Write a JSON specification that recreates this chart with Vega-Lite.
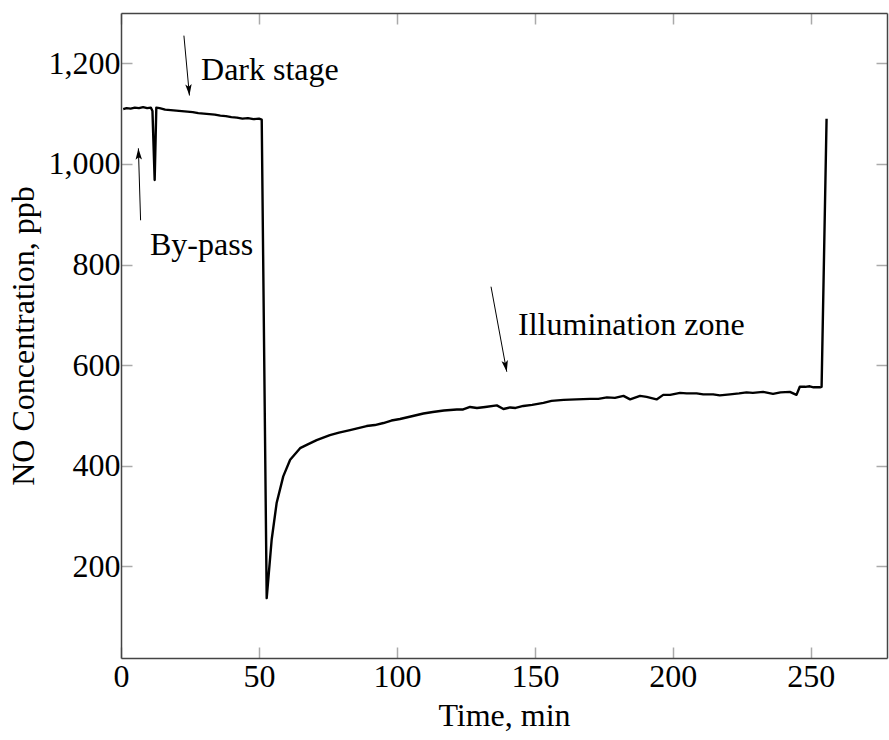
{
  "$schema": "https://vega.github.io/schema/vega-lite/v6.json",
  "autosize": "none",
  "width": 766,
  "height": 645,
  "padding": {"left": 121, "top": 13, "right": 2, "bottom": 82},
  "background": "white",
  "config": {
    "view": {"stroke": null},
    "font": "Liberation Serif, serif",
    "text": {"font": "Liberation Serif, serif"},
    "axis": {
      "labelFont": "Liberation Serif, serif",
      "titleFont": "Liberation Serif, serif",
      "labelFontSize": 32,
      "titleFontSize": 32,
      "titleFontWeight": "normal",
      "labelColor": "#000",
      "titleColor": "#000",
      "domainColor": "#444",
      "domainWidth": 1.5,
      "tickColor": "#aaa",
      "tickWidth": 1.5,
      "tickSize": -11,
      "labelFlush": false,
      "grid": false
    }
  },
  "datasets": {
    "series": [
      {"t": 0.8, "v": 1109}, {"t": 2, "v": 1111}, {"t": 3.5, "v": 1110}, {"t": 5, "v": 1112},
      {"t": 6.5, "v": 1111}, {"t": 8, "v": 1113}, {"t": 9.5, "v": 1111}, {"t": 10.8, "v": 1112},
      {"t": 11.4, "v": 1105}, {"t": 12.2, "v": 968}, {"t": 12.8, "v": 1112}, {"t": 14, "v": 1111},
      {"t": 16, "v": 1108}, {"t": 18, "v": 1107}, {"t": 20, "v": 1106}, {"t": 22, "v": 1105},
      {"t": 24, "v": 1104}, {"t": 26, "v": 1103}, {"t": 28, "v": 1101}, {"t": 30, "v": 1100},
      {"t": 32, "v": 1099}, {"t": 34, "v": 1098}, {"t": 36, "v": 1096}, {"t": 38, "v": 1095},
      {"t": 40, "v": 1093}, {"t": 42, "v": 1092}, {"t": 44, "v": 1090}, {"t": 46, "v": 1091},
      {"t": 48, "v": 1089}, {"t": 50, "v": 1090}, {"t": 51.0, "v": 1088}, {"t": 52.8, "v": 137},
      {"t": 54.6, "v": 253}, {"t": 56.4, "v": 326}, {"t": 58.8, "v": 379}, {"t": 61.3, "v": 412},
      {"t": 64.9, "v": 435}, {"t": 67.5, "v": 442}, {"t": 70.9, "v": 451}, {"t": 75.7, "v": 461},
      {"t": 79, "v": 466}, {"t": 83.0, "v": 471}, {"t": 86, "v": 475}, {"t": 89.0, "v": 479},
      {"t": 92, "v": 481}, {"t": 95.1, "v": 485}, {"t": 98, "v": 490}, {"t": 101.1, "v": 493},
      {"t": 105, "v": 498}, {"t": 109.6, "v": 504}, {"t": 113, "v": 507}, {"t": 117, "v": 510},
      {"t": 121.7, "v": 512}, {"t": 124, "v": 512}, {"t": 126.5, "v": 517}, {"t": 129, "v": 515},
      {"t": 132, "v": 517}, {"t": 136.2, "v": 520}, {"t": 138.6, "v": 513}, {"t": 141, "v": 516},
      {"t": 143, "v": 515}, {"t": 145.8, "v": 519}, {"t": 149, "v": 521}, {"t": 153.1, "v": 525},
      {"t": 156, "v": 529}, {"t": 160.4, "v": 531}, {"t": 165, "v": 532}, {"t": 170.0, "v": 533},
      {"t": 173, "v": 533}, {"t": 176.1, "v": 536}, {"t": 179, "v": 535}, {"t": 182.1, "v": 539},
      {"t": 184.5, "v": 532}, {"t": 188.1, "v": 539}, {"t": 190.5, "v": 537}, {"t": 194.1, "v": 532},
      {"t": 196.5, "v": 541}, {"t": 199, "v": 541}, {"t": 202.6, "v": 545}, {"t": 205, "v": 544},
      {"t": 208.6, "v": 544}, {"t": 211, "v": 542}, {"t": 214.6, "v": 542}, {"t": 217, "v": 540},
      {"t": 220.7, "v": 542}, {"t": 224, "v": 544}, {"t": 226.7, "v": 546}, {"t": 229, "v": 545},
      {"t": 232.7, "v": 547}, {"t": 236.3, "v": 543}, {"t": 239, "v": 546}, {"t": 242.4, "v": 547},
      {"t": 244.8, "v": 541}, {"t": 246.0, "v": 557}, {"t": 248, "v": 557}, {"t": 249.6, "v": 558},
      {"t": 251, "v": 556}, {"t": 253.3, "v": 556}, {"t": 253.9, "v": 557}, {"t": 255.7, "v": 1090}
    ],
    "arrows": [
      {"name": "dark", "t1": 22.8, "v1": 1255, "t2": 24.8, "v2": 1136, "angle": -5},
      {"name": "bypass", "t1": 7.1, "v1": 888, "t2": 6.3, "v2": 1031, "angle": 178},
      {"name": "illum", "t1": 134.1, "v1": 756, "t2": 139.8, "v2": 587, "angle": -10.5}
    ],
    "labels": [
      {"label": "Dark stage", "t": 29.0, "v": 1186},
      {"label": "By-pass", "t": 10.5, "v": 838},
      {"label": "Illumination zone", "t": 143.9, "v": 680}
    ]
  },
  "layer": [
    {
      "data": {"name": "series"},
      "mark": {"type": "line", "color": "#000", "strokeWidth": 2.4, "strokeJoin": "round"},
      "encoding": {
        "x": {"field": "t", "type": "quantitative", "scale": {"domain": [0, 277.6], "nice": false, "zero": false},
              "axis": {"orient": "bottom", "title": "Time, min", "values": [0, 50, 100, 150, 200, 250], "labelPadding": 14, "titlePadding": 8}},
        "y": {"field": "v", "type": "quantitative", "scale": {"domain": [18, 1300], "nice": false, "zero": false},
              "axis": {"orient": "left", "title": "NO Concentration, ppb", "values": [200, 400, 600, 800, 1000, 1200], "format": ",d", "labelPadding": 12, "titlePadding": 8}}
      }
    },
    {
      "data": {"name": "series"},
      "mark": {"type": "line", "strokeOpacity": 0},
      "encoding": {
        "x": {"field": "t", "type": "quantitative", "scale": {"domain": [0, 277.6], "nice": false, "zero": false},
              "axis": {"orient": "top", "title": null, "labels": false, "values": [0, 50, 100, 150, 200, 250]}},
        "y": {"field": "v", "type": "quantitative", "scale": {"domain": [18, 1300], "nice": false, "zero": false},
              "axis": {"orient": "right", "title": null, "labels": false, "values": [200, 400, 600, 800, 1000, 1200]}}
      }
    },
    {
      "data": {"name": "arrows"},
      "mark": {"type": "rule", "color": "#000", "strokeWidth": 1},
      "encoding": {
        "x": {"field": "t1", "type": "quantitative", "axis": null},
        "y": {"field": "v1", "type": "quantitative", "axis": null},
        "x2": {"field": "t2"},
        "y2": {"field": "v2"}
      }
    },
    {
      "data": {"name": "arrows"},
      "mark": {"type": "point", "shape": "M0,0L-0.4,-1.4L0,-1.1L0.4,-1.4Z", "filled": true, "color": "#000", "opacity": 1, "size": 260},
      "encoding": {
        "x": {"field": "t2", "type": "quantitative", "axis": null},
        "y": {"field": "v2", "type": "quantitative", "axis": null},
        "angle": {"field": "angle", "type": "quantitative", "scale": null}
      }
    },
    {
      "data": {"name": "labels"},
      "mark": {"type": "text", "align": "left", "baseline": "middle", "font": "Liberation Serif, serif", "fontSize": 32, "color": "#000"},
      "encoding": {
        "x": {"field": "t", "type": "quantitative", "axis": null},
        "y": {"field": "v", "type": "quantitative", "axis": null},
        "text": {"field": "label"}
      }
    }
  ],
  "resolve": {"axis": {"x": "independent", "y": "independent"}}
}
